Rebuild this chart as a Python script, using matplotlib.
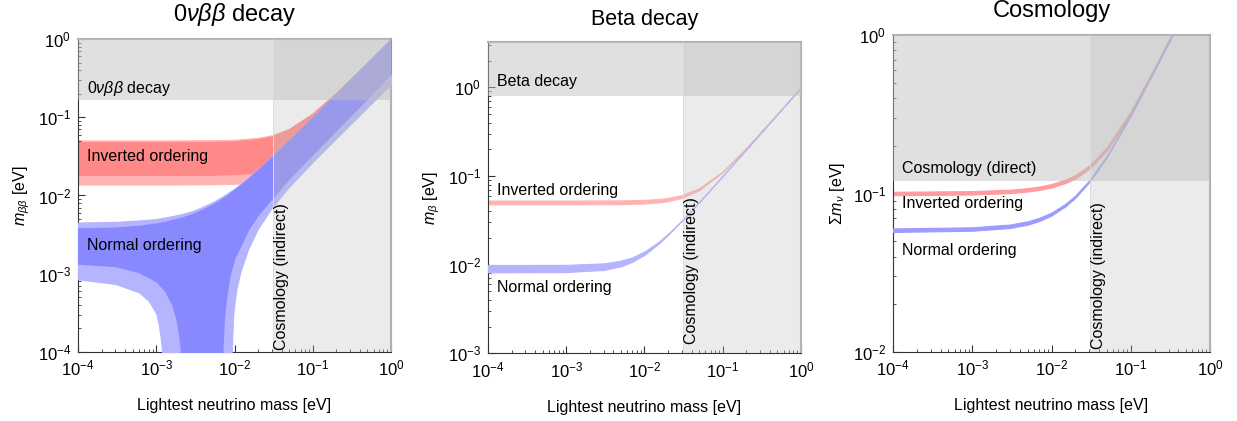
import matplotlib
matplotlib.use("Agg")
import matplotlib.pyplot as plt
from matplotlib.ticker import LogLocator, NullFormatter
from matplotlib.transforms import blended_transform_factory

plt.rcParams['font.family'] = ['Liberation Sans', 'DejaVu Sans']
plt.rcParams['mathtext.fontset'] = 'custom'
plt.rcParams['mathtext.rm'] = 'Liberation Sans'
plt.rcParams['mathtext.it'] = 'Liberation Sans:italic'
plt.rcParams['mathtext.bf'] = 'Liberation Sans:bold'

# experimental limits (eV)
lim_0vbb = 0.165
lim_beta = 0.8
lim_cosmo_direct = 0.12
lim_cosmo_indirect = 0.031

# ---- 0vbb panel: inverted ordering band ----
x_io = [1e-4, 1e-3, 5e-3, 1e-2, 2e-2, 3e-2, 5e-2, 0.1, 0.2, 0.5, 1.0]
io3_hi = [0.0505, 0.0505, 0.0508, 0.0515, 0.0545, 0.059, 0.0715, 0.113, 0.207, 0.503, 1.0]
io1_hi = [0.048, 0.048, 0.0484, 0.0492, 0.0525, 0.057, 0.0700, 0.111, 0.205, 0.50, 1.0]
io1_lo = [0.0183, 0.0183, 0.0184, 0.0187, 0.0197, 0.0214, 0.026, 0.041, 0.076, 0.185, 0.37]
io3_lo = [0.0138, 0.0138, 0.0139, 0.0141, 0.0150, 0.0163, 0.020, 0.032, 0.058, 0.143, 0.285]

# ---- 0vbb panel: normal ordering, 1 sigma ----
x_no1 = [1e-4, 3e-4, 6e-4, 1e-3, 1.3e-3, 1.6e-3, 1.8e-3, 1.95e-3, 2.05e-3, 2.1e-3,
         3e-3, 4e-3, 5e-3, 6e-3, 6.9e-3, 7.0e-3, 7.3e-3, 7.8e-3, 8.7e-3, 1e-2,
         1.5e-2, 2e-2, 3e-2, 5e-2, 0.1, 0.2, 0.5, 1.0]
no1_hi = [0.0038, 0.0039, 0.0041, 0.0044, 0.0046, 0.0049, 0.0050, 0.0051, 0.0052, 0.0052,
          0.0059, 0.0067, 0.0075, 0.0083, 0.0091, 0.0092, 0.0094, 0.0098, 0.0107, 0.0119,
          0.0165, 0.0213, 0.031, 0.0507, 0.1004, 0.2, 0.5, 1.0]
no1_lo = [0.00135, 0.00125, 0.00105, 0.00080, 0.00060, 0.00040, 0.00027, 0.00017, 0.00011, 1e-5,
          1e-5, 1e-5, 1e-5, 1e-5, 1e-5, 0.00011, 0.00026, 0.0005, 0.00098, 0.0016,
          0.0037, 0.0057, 0.0092, 0.0166, 0.034, 0.069, 0.175, 0.36]

# ---- 0vbb panel: normal ordering, 3 sigma ----
x_no3 = [1e-4, 3e-4, 6e-4, 8e-4, 1e-3, 1.08e-3, 1.14e-3, 1.19e-3, 1.25e-3, 2e-3,
         3e-3, 5e-3, 7e-3, 9.1e-3, 9.2e-3, 9.6e-3, 1.05e-2, 1.2e-2, 1.5e-2, 2e-2,
         3e-2, 5e-2, 0.1, 0.2, 0.5, 1.0]
no3_hi = [0.0045, 0.0046, 0.0048, 0.0049, 0.0050, 0.0051, 0.0051, 0.0052, 0.0052, 0.0057,
          0.0064, 0.0080, 0.0097, 0.0115, 0.0116, 0.0119, 0.0127, 0.0141, 0.0170, 0.0218,
          0.0315, 0.0512, 0.1006, 0.2003, 0.5, 1.0]
no3_lo = [0.00085, 0.00074, 0.00058, 0.00045, 0.00031, 0.00022, 0.00015, 0.00010, 1e-5, 1e-5,
          1e-5, 1e-5, 1e-5, 1e-5, 0.0001, 0.0003, 0.00062, 0.0011, 0.0021, 0.0038,
          0.0070, 0.0130, 0.027, 0.054, 0.134, 0.265]

# ---- beta decay panel ----
x_b = [1e-4, 1e-3, 3e-3, 5e-3, 7e-3, 1e-2, 1.5e-2, 2e-2, 3e-2, 5e-2, 0.1, 0.2, 0.5, 1.0]
b_io_lo = [0.0480, 0.0480, 0.0481, 0.0482, 0.0485, 0.0490, 0.0503, 0.0520, 0.0566, 0.0693, 0.1109, 0.2057, 0.5023, 1.0]
b_io_hi = [0.0529, 0.0529, 0.0530, 0.0531, 0.0534, 0.0539, 0.0550, 0.0566, 0.0608, 0.0728, 0.1131, 0.2069, 0.5028, 1.0014]
b_no_lo = [0.00819, 0.00825, 0.00872, 0.00959, 0.01077, 0.01292, 0.01709, 0.02161, 0.0311, 0.05067, 0.10033, 0.20017, 0.50007, 1.0]
b_no_hi = [0.0099, 0.00995, 0.01034, 0.01109, 0.01212, 0.01407, 0.01797, 0.02232, 0.03159, 0.05097, 0.10049, 0.20025, 0.5001, 1.0]

# ---- cosmology panel ----
x_s = [1e-4, 1e-3, 3e-3, 5e-3, 7e-3, 1e-2, 1.5e-2, 2e-2, 3e-2, 5e-2, 0.1, 0.2, 0.3, 0.33, 0.34, 1.0]
s_io_lo = [0.0975, 0.0985, 0.1005, 0.1029, 0.1052, 0.1092, 0.1164, 0.1245, 0.1430, 0.1866, 0.315, 0.597, 0.885, 0.975, 1.0, 1.0]
s_io_hi = [0.1025, 0.1035, 0.1057, 0.1081, 0.1106, 0.1148, 0.1224, 0.1309, 0.1504, 0.1962, 0.331, 0.627, 0.93, 1.0, 1.0, 1.0]
s_no_lo = [0.0572, 0.0582, 0.0606, 0.0636, 0.0670, 0.0726, 0.0830, 0.0940, 0.1180, 0.1695, 0.309, 0.602, 0.899, 0.99, 1.0, 1.0]
s_no_hi = [0.0602, 0.0612, 0.0637, 0.0668, 0.0702, 0.0758, 0.0862, 0.0972, 0.1212, 0.1735, 0.315, 0.611, 0.910, 1.0, 1.0, 1.0]

RED_L, RED_M, RED_D = '#ffb4b4', '#ff9c9c', '#ff8888'
BLUE_L, BLUE_M, BLUE_D = '#b4b4ff', '#9c9cff', '#8888ff'
GRAY = '#bfbfbf'
FS_TXT = 11.5


def setup(ax, ylim, ylabel, title, title_pad, title_fs):
    ax.set_xscale('log')
    ax.set_yscale('log')
    ax.set_xlim(1e-4, 1.0)
    ax.set_ylim(*ylim)
    for a in (ax.xaxis, ax.yaxis):
        a.set_major_locator(LogLocator(base=10, numticks=10))
        a.set_minor_locator(LogLocator(base=10, subs=range(2, 10), numticks=20))
        a.set_minor_formatter(NullFormatter())
    ax.tick_params(which='both', direction='in', top=False, right=False, labelsize=12, color='#333333')
    ax.tick_params(which='major', length=5, width=0.8, pad=5)
    ax.tick_params(which='minor', length=2.5, width=0.6)
    for s in ('left', 'bottom'):
        ax.spines[s].set_color('#333333')
    for s in ('top', 'right'):
        ax.spines[s].set_color('#b0b0b0')
        ax.spines[s].set_linewidth(1.5)
    ax.set_xlabel('Lightest neutrino mass [eV]', fontsize=11.5, labelpad=14)
    ax.set_ylabel(ylabel, fontsize=11.5, labelpad=4)
    ax.set_title(title, fontsize=title_fs, pad=title_pad)


def overlays(ax, ylim, hlim, ind_y):
    ax.axvspan(lim_cosmo_indirect, 1.0, color=GRAY, alpha=0.31, lw=0, zorder=5)
    ax.axhspan(hlim, ylim[1], color=GRAY, alpha=0.48, lw=0, zorder=5)
    ax.axvline(lim_cosmo_indirect, color='#dcdcdc', lw=0.7, zorder=5)
    tr = blended_transform_factory(ax.transData, ax.transAxes)
    ax.text(lim_cosmo_indirect * 1.03, ind_y, 'Cosmology (indirect)', rotation=90,
            ha='left', va='bottom', fontsize=FS_TXT, transform=tr, zorder=6)


def band(ax, x, lo, hi, color, z):
    ax.fill_between(x, lo, hi, facecolor=color, edgecolor=color, lw=0.8, zorder=z)


fig = plt.figure(figsize=(12.37, 4.21), dpi=100)

# ---- panel 1: 0vbb ----
ax1 = fig.add_axes([0.0631, 0.1639, 0.2530, 0.7435])
ylim1 = (1e-4, 1.0)
setup(ax1, ylim1, r'$m_{\beta\beta}$ [eV]', r'0$\nu\beta\beta$ decay', 13, 17)
band(ax1, x_io, io3_lo, io3_hi, RED_L, 1)
band(ax1, x_io, io1_lo, io1_hi, RED_D, 2)
band(ax1, x_no3, no3_lo, no3_hi, BLUE_L, 3)
band(ax1, x_no1, no1_lo, no1_hi, BLUE_D, 4)
overlays(ax1, ylim1, lim_0vbb, 0.006)
ax1.text(0.029, 0.843, r'0$\nu\beta\beta$ decay', transform=ax1.transAxes, fontsize=FS_TXT, va='center', zorder=6)
ax1.text(0.029, 0.623, 'Inverted ordering', transform=ax1.transAxes, fontsize=FS_TXT, va='center', zorder=6)
ax1.text(0.029, 0.34, 'Normal ordering', transform=ax1.transAxes, fontsize=FS_TXT, va='center', zorder=6)

# ---- panel 2: beta decay ----
ax2 = fig.add_axes([0.3945, 0.1608, 0.2530, 0.7400])
ylim2 = (1e-3, 3.27)
setup(ax2, ylim2, r'$m_{\beta}$ [eV]', 'Beta decay', 12, 15.5)
band(ax2, x_b, b_io_lo, b_io_hi, RED_L, 2)
band(ax2, x_b, b_no_lo, b_no_hi, BLUE_L, 3)
overlays(ax2, ylim2, lim_beta, 0.03)
ax2.text(0.03, 0.872, 'Beta decay', transform=ax2.transAxes, fontsize=FS_TXT, va='center', zorder=6)
ax2.text(0.03, 0.524, 'Inverted ordering', transform=ax2.transAxes, fontsize=FS_TXT, va='center', zorder=6)
ax2.text(0.03, 0.212, 'Normal ordering', transform=ax2.transAxes, fontsize=FS_TXT, va='center', zorder=6)

# ---- panel 3: cosmology ----
ax3 = fig.add_axes([0.7219, 0.1639, 0.2563, 0.7530])
ylim3 = (1e-2, 1.0)
setup(ax3, ylim3, r'$\Sigma m_{\nu}$ [eV]', 'Cosmology', 13, 17)
band(ax3, x_s, s_io_lo, s_io_hi, RED_M, 2)
band(ax3, x_s, s_no_lo, s_no_hi, BLUE_M, 3)
overlays(ax3, ylim3, lim_cosmo_direct, 0.01)
ax3.text(0.029, 0.58, 'Cosmology (direct)', transform=ax3.transAxes, fontsize=FS_TXT, va='center', zorder=6)
ax3.text(0.029, 0.469, 'Inverted ordering', transform=ax3.transAxes, fontsize=FS_TXT, va='center', zorder=6)
ax3.text(0.029, 0.32, 'Normal ordering', transform=ax3.transAxes, fontsize=FS_TXT, va='center', zorder=6)

fig.savefig('out.png', dpi=100)
